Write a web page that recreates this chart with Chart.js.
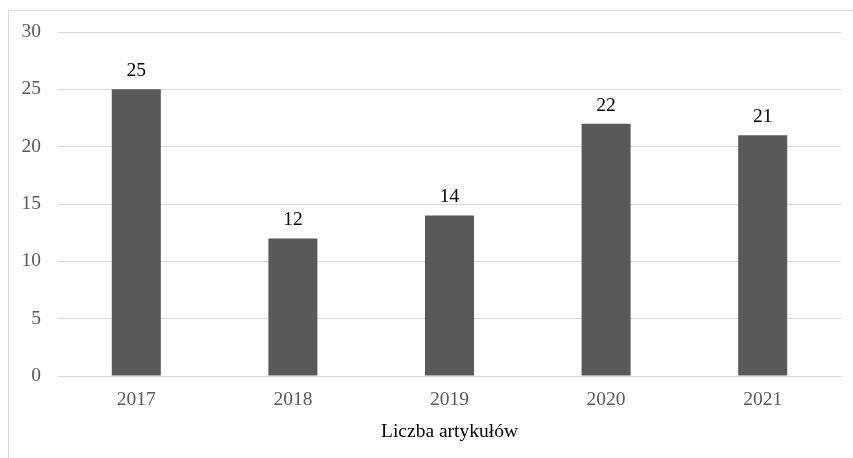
<!DOCTYPE html>
<html>
<head>
<meta charset="utf-8">
<script src="https://cdn.jsdelivr.net/npm/chart.js@4"></script>
<style>
  html, body { margin: 0; padding: 0; background: #fff; overflow: hidden; }
  #frame { position: absolute; left: 8px; top: 10px; width: 900px; height: 500px;
           border-left: 1px solid #d9d9d9; border-top: 1px solid #d9d9d9; }
  #wrap { position: absolute; left: 0; top: 0; width: 853px; height: 458px; }
</style>
</head>
<body>
<div id="frame"></div>
<div id="wrap"><canvas id="chart"></canvas></div>
<script>
const years = ['2017', '2018', '2019', '2020', '2021'];
const articles = [25, 12, 14, 22, 21];
const yTicks = [0, 5, 10, 15, 20, 25, 30];

const FONT = "'Liberation Serif', 'Times New Roman', serif";

// value labels above the bars
const barLabels = {
  id: 'barLabels',
  afterDatasetsDraw(chart) {
    const ctx = chart.ctx;
    const meta = chart.getDatasetMeta(0);
    ctx.save();
    ctx.font = `19.5px ${FONT}`;
    ctx.fillStyle = '#000';
    ctx.textAlign = 'center';
    ctx.textBaseline = 'alphabetic';
    meta.data.forEach((bar, i) => {
      ctx.fillText(String(articles[i]), bar.x, bar.y - 13);
    });
    ctx.restore();
  }
};

new Chart(document.getElementById('chart'), {
  type: 'bar',
  data: {
    labels: years,
    datasets: [{
      label: 'Liczba artykułów',
      data: articles,
      backgroundColor: '#595959',
      borderWidth: 0,
      categoryPercentage: 1,
      barPercentage: 0.313,
    }],
  },
  options: {
    responsive: true,
    maintainAspectRatio: false,
    animation: false,
    layout: { padding: { top: 32, right: 12, left: 0, bottom: 0 } },
    plugins: {
      legend: { display: false },
      tooltip: { enabled: false },
    },
    scales: {
      x: {
        grid: { display: false, drawTicks: false },
        border: { display: true, color: '#d9d9d9', width: 1 },
        ticks: { color: '#595959', padding: 12, font: { size: 19.5, family: FONT } },
        title: {
          display: true,
          text: 'Liczba artykułów',
          color: '#000',
          font: { size: 19.5, family: FONT },
          padding: { top: 0, bottom: 14.5 },
        },
        afterFit: (scale) => { scale.height = 82; },
      },
      y: {
        min: 0,
        max: 30,
        afterBuildTicks: (scale) => { scale.ticks = yTicks.map(v => ({ value: v })); },
        grid: { color: '#d9d9d9', drawTicks: false },
        border: { display: false },
        ticks: { color: '#595959', padding: 17, font: { size: 19.5, family: FONT } },
        afterFit: (scale) => { scale.width = 58; },
      },
    },
  },
  plugins: [barLabels],
});
</script>
</body>
</html>
